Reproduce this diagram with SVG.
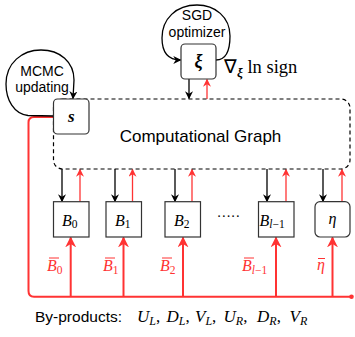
<svg xmlns="http://www.w3.org/2000/svg" width="355" height="337" viewBox="0 0 355 337">
<style>
.box{fill:#fff;stroke:#333;stroke-width:1.2}
.dash{fill:none;stroke:#000;stroke-width:1.2;stroke-dasharray:4 3}
.blk{fill:none;stroke:#000;stroke-width:1.3}
.red{fill:none;stroke:#ff3333;stroke-width:1.3}
.redt{fill:none;stroke:#ff3333;stroke-width:2}
.sans{font-family:"Liberation Sans",Arial,sans-serif;fill:#000}
.math{font-family:"Liberation Serif","Times New Roman",serif;font-style:italic;fill:#000}
.rm{font-family:"Liberation Serif","Times New Roman",serif;fill:#000}
.rmath{font-family:"Liberation Serif","Times New Roman",serif;font-style:italic;fill:#ff3333}
</style>
<defs>
<marker id="ab" viewBox="0 0 10 10" refX="9" refY="5" markerWidth="8" markerHeight="8" markerUnits="userSpaceOnUse" orient="auto"><path d="M0,0 L10,5 L0,10 L3,5 z" fill="#000"/></marker>
<marker id="ar" viewBox="0 0 10 10" refX="9" refY="5" markerWidth="8" markerHeight="8" markerUnits="userSpaceOnUse" orient="auto"><path d="M0,0 L10,5 L0,10 L3,5 z" fill="#ff3333"/></marker>
<marker id="ar2" viewBox="0 0 10 10" refX="9" refY="5" markerWidth="11" markerHeight="11" markerUnits="userSpaceOnUse" orient="auto"><path d="M0,0 L10,5 L0,10 L3,5 z" fill="#ff3333"/></marker>
</defs>

<g id="connectors">
<path class="redt" d="M53.5,117 L34,117 Q28.5,117 28.5,122.5 L28.5,291 Q28.5,296.7 34,296.7 L350,296.7"/>
<circle cx="351.5" cy="296.7" r="2.3" fill="#ff3333"/>
<path class="blk" marker-end="url(#ab)" d="M53.5,116 L28,115.5 C14,114 6,100 6,84 C6,63 22,50 41,50 C60,50 74,62 74,80 L73,98.5"/>
<path class="blk" marker-end="url(#ab)" d="M216,60 C226,60 230,50 230,36 C230,17 215,5 197,5 C176,5 162,19 162,38 C162,52 168,60 180.5,60"/>
<line class="blk" marker-end="url(#ab)" x1="189" y1="79" x2="189" y2="98.5"/>
<line class="red" marker-end="url(#ar)" x1="207" y1="99" x2="207" y2="79.5"/>
<line class="blk" marker-end="url(#ab)" x1="62" y1="169" x2="62" y2="201.5"/>
<line class="blk" marker-end="url(#ab)" x1="115" y1="169" x2="115" y2="201.5"/>
<line class="blk" marker-end="url(#ab)" x1="175" y1="169" x2="175" y2="201.5"/>
<line class="blk" marker-end="url(#ab)" x1="267" y1="169" x2="267" y2="201.5"/>
<line class="blk" marker-end="url(#ab)" x1="323" y1="169" x2="323" y2="201.5"/>
<line class="red" marker-end="url(#ar)" x1="80" y1="201.7" x2="80" y2="169.5"/>
<line class="red" marker-end="url(#ar)" x1="132.5" y1="201.7" x2="132.5" y2="169.5"/>
<line class="red" marker-end="url(#ar)" x1="192" y1="201.7" x2="192" y2="169.5"/>
<line class="red" marker-end="url(#ar)" x1="286" y1="201.7" x2="286" y2="169.5"/>
<line class="red" marker-end="url(#ar)" x1="342" y1="201.7" x2="342" y2="169.5"/>
<line class="redt" marker-end="url(#ar2)" x1="70.7" y1="296.7" x2="70.7" y2="237.5"/>
<line class="redt" marker-end="url(#ar2)" x1="123.5" y1="296.7" x2="123.5" y2="237.5"/>
<line class="redt" marker-end="url(#ar2)" x1="183" y1="296.7" x2="183" y2="237.5"/>
<line class="redt" marker-end="url(#ar2)" x1="276" y1="296.7" x2="276" y2="237.5"/>
<line class="redt" marker-end="url(#ar2)" x1="332.5" y1="296.7" x2="332.5" y2="237.5"/>
</g>

<g id="graph">
<rect class="dash" x="53.5" y="99" width="296.5" height="70" rx="9"/>
<text class="sans" x="200.5" y="141.5" font-size="17" text-anchor="middle">Computational Graph</text>
</g>

<g id="mcmc-label">
<text class="sans" x="42" y="76" font-size="14" text-anchor="middle">MCMC</text>
<text class="sans" x="42" y="92" font-size="14" text-anchor="middle">updating</text>
</g>

<g id="sgd-label">
<text class="sans" x="197" y="20" font-size="14" text-anchor="middle">SGD</text>
<text class="sans" x="197" y="37" font-size="14" text-anchor="middle">optimizer</text>
</g>

<g id="node-s">
<rect class="box" x="53.5" y="99" width="35.5" height="35" rx="4"/>
<text class="math" x="71.2" y="122" font-size="17" font-weight="bold" text-anchor="middle">s</text>
</g>

<g id="node-xi">
<rect class="box" x="181" y="44" width="35" height="35" rx="4"/>
<text class="math" x="198.5" y="67" font-size="18" font-weight="bold" text-anchor="middle">ξ</text>
</g>

<g id="grad-label">
<text class="rm" x="224" y="73" font-size="18.5">∇<tspan font-size="13" font-weight="bold" font-style="italic" dy="4">ξ</tspan><tspan dy="-4"> ln sign</tspan></text>
</g>

<g id="node-B0">
<rect class="box" x="53.5" y="201.7" width="35.5" height="35.3"/>
<text class="math" x="62" y="225.5" font-size="16">B<tspan font-style="normal" font-size="11.5" dy="2.5">0</tspan></text>
</g>
<g id="node-B1">
<rect class="box" x="106" y="201.7" width="35.5" height="35.3"/>
<text class="math" x="115" y="225.5" font-size="16">B<tspan font-style="normal" font-size="11.5" dy="2.5">1</tspan></text>
</g>
<g id="node-B2">
<rect class="box" x="165" y="201.7" width="35.5" height="35.3"/>
<text class="math" x="174" y="225.5" font-size="16">B<tspan font-style="normal" font-size="11.5" dy="2.5">2</tspan></text>
</g>
<g id="dots">
<text class="rm" x="228.5" y="221" font-size="14" text-anchor="middle">·····</text>
</g>
<g id="node-Bl1">
<rect class="box" x="258.5" y="201.7" width="35.5" height="35.3"/>
<text class="math" x="259.5" y="225.5" font-size="16">B<tspan font-size="11.5" dy="2.5">l</tspan><tspan font-style="normal" font-size="11.5">−1</tspan></text>
</g>
<g id="node-eta">
<rect class="box" x="315" y="201.7" width="35" height="35.3" rx="5"/>
<text class="math" x="332.5" y="224" font-size="16" text-anchor="middle">η</text>
</g>

<g id="adjoint-labels">
<text class="rmath" x="47" y="271" font-size="16">B<tspan font-style="normal" font-size="11.5" dy="2.5">0</tspan></text>
<line x1="49" y1="258" x2="59" y2="258" stroke="#ff3333" stroke-width="1"/>
<text class="rmath" x="103" y="271" font-size="16">B<tspan font-style="normal" font-size="11.5" dy="2.5">1</tspan></text>
<line x1="105" y1="258" x2="115" y2="258" stroke="#ff3333" stroke-width="1"/>
<text class="rmath" x="160" y="271" font-size="16">B<tspan font-style="normal" font-size="11.5" dy="2.5">2</tspan></text>
<line x1="162" y1="258" x2="172" y2="258" stroke="#ff3333" stroke-width="1"/>
<text class="rmath" x="242" y="271" font-size="16">B<tspan font-size="11.5" dy="2.5">l</tspan><tspan font-style="normal" font-size="11.5">−1</tspan></text>
<line x1="244" y1="258" x2="254" y2="258" stroke="#ff3333" stroke-width="1"/>
<text class="rmath" x="321" y="270" font-size="16" text-anchor="middle">η</text>
<line x1="318" y1="258.5" x2="325" y2="258.5" stroke="#ff3333" stroke-width="1"/>
</g>

<g id="byproducts">
<text class="sans" x="35" y="322" font-size="15.5">By-products:</text>
<text class="math" font-size="17" y="322"><tspan x="137">U</tspan><tspan font-size="12" dy="2.5">L</tspan><tspan font-style="normal" dy="-2.5">,</tspan><tspan x="166.5">D</tspan><tspan font-size="12" dy="2.5">L</tspan><tspan font-style="normal" dy="-2.5">,</tspan><tspan x="195">V</tspan><tspan font-size="12" dy="2.5">L</tspan><tspan font-style="normal" dy="-2.5">,</tspan><tspan x="223.5">U</tspan><tspan font-size="12" dy="2.5">R</tspan><tspan font-style="normal" dy="-2.5">,</tspan><tspan x="257">D</tspan><tspan font-size="12" dy="2.5">R</tspan><tspan font-style="normal" dy="-2.5">,</tspan><tspan x="289.5">V</tspan><tspan font-size="12" dy="2.5">R</tspan></text>
</g>
</svg>
